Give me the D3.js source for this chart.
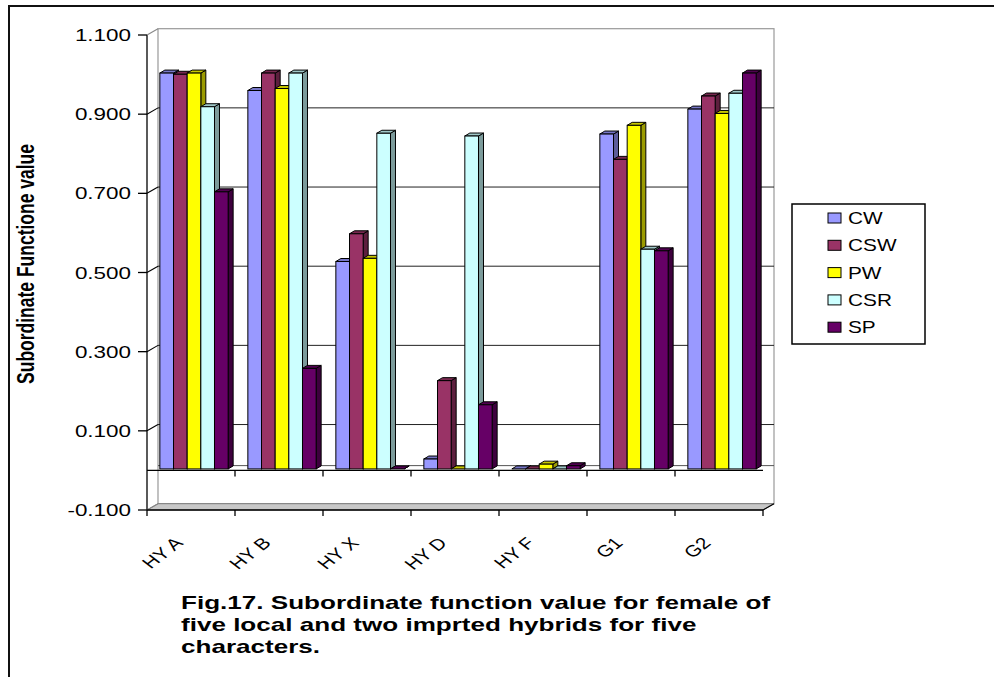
<!DOCTYPE html>
<html>
<head>
<meta charset="utf-8">
<script src="https://cdn.jsdelivr.net/npm/d3@7"></script>
<style>
  html, body { margin: 0; padding: 0; background: #fff; }
  svg { display: block; }
  text { font-family: "Liberation Sans", Arial, sans-serif; fill: #000; }
</style>
</head>
<body>
<svg id="chart" width="994" height="677"></svg>
<script>
// ---- data ----
const categories = ["HY A", "HY B", "HY X", "HY D", "HY F", "G1", "G2"];
const seriesNames = ["CW", "CSW", "PW", "CSR", "SP"];
const CW  = [1.000, 0.956, 0.524, 0.025, 0.000, 0.846, 0.909];
const CSW = [0.997, 1.000, 0.594, 0.223, 0.000, 0.782, 0.942];
const PW  = [1.000, 0.961, 0.532, 0.000, 0.012, 0.868, 0.898];
const CSR = [0.915, 1.000, 0.848, 0.841, 0.000, 0.555, 0.949];
const SP  = [0.700, 0.254, 0.000, 0.162, 0.008, 0.551, 1.000];
const yTicks = [-0.1, 0.1, 0.3, 0.5, 0.7, 0.9, 1.1];
const yTitle = "Subordinate Functione value";
const captionLines = [
  "Fig.17. Subordinate function value for female of",
  "five local and two imprted hybrids for five",
  "characters."
];
const seriesColors = ["#9999FF", "#993366", "#FFFF00", "#CCFFFF", "#660066"];

const seriesValues = [CW, CSW, PW, CSR, SP];

const svg = d3.select("#chart");

// outer frame
svg.append("rect").attr("x", 9).attr("y", 6).attr("width", 1100).attr("height", 800)
  .attr("fill", "none").attr("stroke", "#111").attr("stroke-width", 2);

// ---- scales ----
const y = d3.scaleLinear().domain([-0.1, 1.1]).range([510, 35]);
const x0 = d3.scaleBand().domain(categories).range([147, 763]).padding(0);
const x1 = d3.scaleBand().domain(seriesNames).range([9.85, 78.15]).padding(0);
const color = d3.scaleOrdinal().domain(seriesNames).range(seriesColors);

// 3D offsets
const WD = { dx: 11, dy: -6.3 };   // wall depth
const BF = { dx: 3, dy: -1.5 };    // bar front offset
const BD = { dx: 5, dy: -3 };      // bar depth

const xL = x0.range()[0], xR = x0.range()[1];

// back wall
const g = svg.append("g");
g.append("rect")
  .attr("x", xL + WD.dx).attr("y", y(1.1) + WD.dy)
  .attr("width", xR - xL).attr("height", y(-0.1) - y(1.1))
  .attr("fill", "#fff").attr("stroke", "#999").attr("stroke-width", 1.2);

// back gridlines
g.selectAll(".grid").data(yTicks.filter(t => t > -0.1 && t < 1.1)).join("line")
  .attr("x1", xL + WD.dx).attr("x2", xR + WD.dx)
  .attr("y1", d => y(d) + WD.dy).attr("y2", d => y(d) + WD.dy)
  .attr("stroke", "#222").attr("stroke-width", 1);

// back line at 0
g.append("line")
  .attr("x1", xL + WD.dx).attr("x2", xR + WD.dx)
  .attr("y1", y(0) + WD.dy + 1.5).attr("y2", y(0) + WD.dy + 1.5)
  .attr("stroke", "#555").attr("stroke-width", 1);

// floor band at min
g.append("polygon")
  .attr("points", [
    [xL, y(-0.1)], [xR, y(-0.1)], [xR + WD.dx, y(-0.1) + WD.dy], [xL + WD.dx, y(-0.1) + WD.dy]
  ].map(p => p.join(",")).join(" "))
  .attr("fill", "#c8c8c8").attr("stroke", "#808080").attr("stroke-width", 1);

// front line at value 0 with ticks
g.append("line").attr("x1", xL).attr("x2", xR).attr("y1", y(0)).attr("y2", y(0))
  .attr("stroke", "#000").attr("stroke-width", 1.3);
g.selectAll(".t0").data(categories.slice(1)).join("line")
  .attr("x1", d => x0(d)).attr("x2", d => x0(d))
  .attr("y1", y(0)).attr("y2", y(0) + 6)
  .attr("stroke", "#000").attr("stroke-width", 1.3);

// ---- bars ----
const bars = g.append("g");
categories.forEach((c, ci) => {
  seriesNames.forEach((s, si) => {
    const v = seriesValues[si][ci];
    const base = d3.color(color(s));
    const xa = x0(c) + x1(s) + BF.dx;
    const w = x1.bandwidth();
    const yt = y(v) + BF.dy;
    const yb = y(0) + BF.dy;
    const side = [[xa + w, yt], [xa + w + BD.dx, yt + BD.dy], [xa + w + BD.dx, yb + BD.dy], [xa + w, yb]];
    const top = [[xa, yt], [xa + BD.dx, yt + BD.dy], [xa + w + BD.dx, yt + BD.dy], [xa + w, yt]];
    bars.append("polygon").attr("points", side.map(p => p.join(",")).join(" "))
      .attr("fill", base.darker(1.4)).attr("stroke", "#000").attr("stroke-width", 1).attr("stroke-linejoin", "round");
    bars.append("polygon").attr("points", top.map(p => p.join(",")).join(" "))
      .attr("fill", base.darker(0.7)).attr("stroke", "#000").attr("stroke-width", 1).attr("stroke-linejoin", "round");
    bars.append("rect").attr("x", xa).attr("y", yt).attr("width", w).attr("height", Math.max(0, yb - yt))
      .attr("fill", base).attr("stroke", "#000").attr("stroke-width", 1);
  });
});

// ---- value axis ----
const ax = svg.append("g");
ax.append("line").attr("x1", xL).attr("x2", xL).attr("y1", y(1.1)).attr("y2", y(-0.1))
  .attr("stroke", "#000").attr("stroke-width", 1.3);
ax.selectAll(".tick").data(yTicks).join("line")
  .attr("x1", xL - 9).attr("x2", xL).attr("y1", d => y(d)).attr("y2", d => y(d))
  .attr("stroke", "#000").attr("stroke-width", 1.3);
ax.selectAll(".diag").data(yTicks).join("line")
  .attr("x1", xL).attr("x2", xL + WD.dx).attr("y1", d => y(d)).attr("y2", d => y(d) + WD.dy)
  .attr("stroke", d => (d === 1.1 || d === -0.1) ? "#888" : "#000").attr("stroke-width", 1.1);
ax.selectAll(".lab").data(yTicks).join("text")
  .attr("transform", d => `translate(${xL - 16},${y(d) + 6}) scale(1.32,1)`)
  .attr("text-anchor", "end").attr("font-size", 17)
  .text(d => d3.format(".3f")(d).replace("−", "-"));

// y title
svg.append("text")
  .attr("transform", "translate(34,264) scale(1.35,1) rotate(-90)")
  .attr("text-anchor", "middle").attr("font-size", 17.5).attr("font-weight", "bold")
  .text(yTitle);

// ---- category axis ----
const cx = svg.append("g");
cx.append("line").attr("x1", xL).attr("x2", xR).attr("y1", y(-0.1)).attr("y2", y(-0.1))
  .attr("stroke", "#000").attr("stroke-width", 1.3);
cx.append("line").attr("x1", xR).attr("x2", xR + WD.dx).attr("y1", y(-0.1)).attr("y2", y(-0.1) + WD.dy)
  .attr("stroke", "#000").attr("stroke-width", 1.1);
cx.selectAll(".ct").data(categories.concat(["__end"])).join("line")
  .attr("x1", d => d === "__end" ? xR : x0(d)).attr("x2", d => d === "__end" ? xR : x0(d))
  .attr("y1", y(-0.1)).attr("y2", y(-0.1) + 6)
  .attr("stroke", "#000").attr("stroke-width", 1.3);
cx.selectAll(".cl").data(categories).join("text")
  .attr("transform", d => `translate(${x0(d) + x0.bandwidth() / 2 - 7},${y(-0.1) + 34}) scale(1.3,1) rotate(-45)`)
  .attr("text-anchor", "end").attr("font-size", 16)
  .text(d => d);

// ---- legend ----
const lg = svg.append("g");
lg.append("rect").attr("x", 792).attr("y", 204).attr("width", 133).attr("height", 140)
  .attr("fill", "#fff").attr("stroke", "#000").attr("stroke-width", 1.5);
const li = lg.selectAll(".li").data(seriesNames).join("g")
  .attr("transform", (d, i) => `translate(0,${218 + i * 27.3})`);
li.append("rect").attr("x", 828).attr("y", -5).attr("width", 13).attr("height", 10)
  .attr("fill", d => color(d)).attr("stroke", "#000").attr("stroke-width", 1);
li.append("text").attr("transform", "translate(848,6) scale(1.3,1)")
  .attr("font-size", 16).text(d => d);

// ---- caption ----
svg.append("g").selectAll("text").data(captionLines).join("text")
  .attr("transform", (d, i) => `translate(181,${609 + i * 22}) scale(1.49,1)`)
  .attr("font-size", 17.5).attr("font-weight", "bold")
  .text(d => d);
</script>
</body>
</html>
